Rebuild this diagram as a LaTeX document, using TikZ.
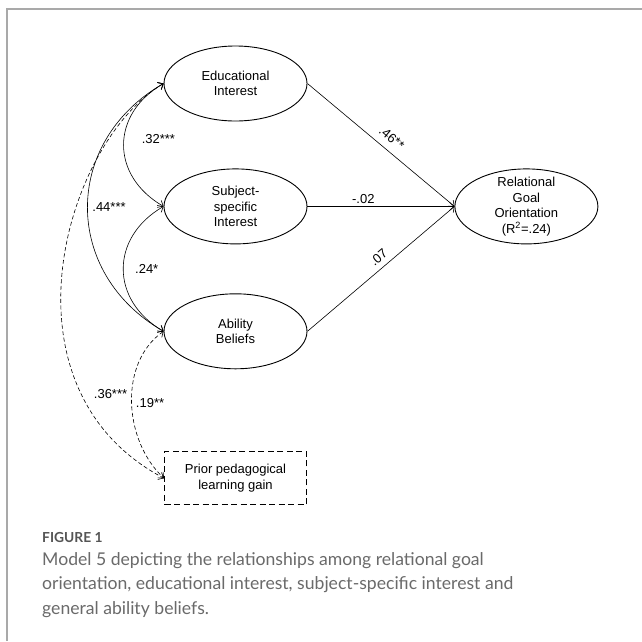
\documentclass[tikz,border=0pt]{standalone}
\usepackage{fontspec}
\setmainfont{Liberation Sans}
\newfontfamily\capfont{Lato}
\usetikzlibrary{positioning, shapes.geometric, arrows.meta}

\definecolor{framegray}{HTML}{A9A9A9}
\definecolor{capgray}{HTML}{6A6A6A}
\definecolor{figgray}{HTML}{555555}

\tikzset{
  latent/.style={ellipse, draw, line width=0.9pt, minimum width=143pt, minimum height=75pt,
    inner sep=0pt, align=center, font=\fontsize{13}{15.5}\selectfont},
  observed/.style={draw, dash pattern=on 6pt off 3.5pt, line width=1pt, minimum width=142pt,
    minimum height=53pt, align=center, font=\fontsize{13}{15.5}\selectfont},
  coef/.style={font=\fontsize{13}{15}\selectfont, inner sep=2.5pt},
  path/.style={->, line width=0.6pt},
  cov/.style={<->, line width=0.6pt},
  covd/.style={cov, dash pattern=on 4pt off 2.5pt}
}

\begin{document}
\begin{tikzpicture}[x=1pt, y=1pt, >={Straight Barb[length=4.5pt, width=8pt]}]
    \useasboundingbox (0,0) rectangle (642,-641);
    \fill[white] (0,0) rectangle (642,-641);
    \draw[framegray, line width=1.6pt] (7,-641) -- (7,-9) -- (642,-9);

    % Latent variables
    \node[latent] (ei) at (235.5,-83.5) {Educational\\Interest};
    \node[latent, below=47pt of ei] (ssi) {Subject-\\specific\\Interest};
    \node[latent, below=49pt of ssi] (ab) {Ability\\Beliefs};
    \node[latent, inner ysep=-6pt, right=147pt of ssi] (rgo) {Relational\\Goal\\Orientation\\(R\textsuperscript{2}=.24)};
    \node[observed, below=82pt of ab] (prior) {Prior pedagogical\\learning gain};

    % Paths to the outcome
    \path
      (ei.east) edge [path] node [coef, sloped, above=5pt, pos=0.52] {.46**} (rgo.west)
      (ssi.east) edge [path] node [coef, above, pos=0.38] {-.02} (rgo.west)
      (ab.east) edge [path] node [coef, sloped, above=3pt, pos=0.53] {.07} (rgo.west);

    % Correlations
    \draw[cov] (ei.west) to[out=210, in=150, looseness=1.28] node [coef, right=15pt, pos=0.46] {.32***} (ssi.west);
    \draw[cov] (ssi.west) to[out=210, in=150, looseness=1.27] node [coef, right=9pt, pos=0.5] {.24*} (ab.west);
    \draw[cov] (ei.west) to[out=210, in=150, looseness=1.21] node [coef, right=2pt, pos=0.5] {.44***} (ab.west);
    \draw[covd] (ei.west) .. controls +(-100,-60) and +(-170,90) .. node [coef, right=10pt, pos=0.765] {.36***} (prior.west);
    \draw[covd] (ab.west) to[out=215, in=137, looseness=0.96] node [coef, right=1.5pt, pos=0.5] {.19**} (prior.west);

    % Caption
    \node[anchor=base west, inner sep=0pt, text=figgray, font=\capfont\bfseries\fontsize{13.8}{15}\selectfont] (fig) at (42,-542) {FIGURE 1};
    \node[anchor=north west, inner sep=0pt, align=left, text=capgray, font=\capfont\fontsize{17.6}{24.5}\selectfont] (cap) at (42,-552)
      {Model 5 depicting the relationships among relational goal\\orientation, educational interest, subject-specific interest and\\general ability beliefs.};
\end{tikzpicture}
\end{document}
